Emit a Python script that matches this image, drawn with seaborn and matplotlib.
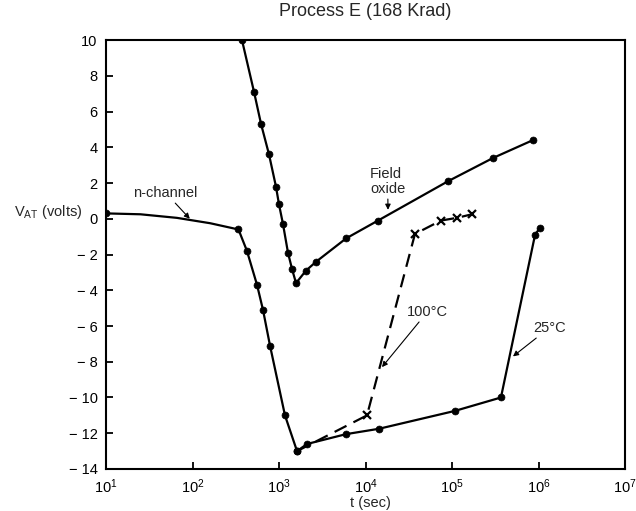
import matplotlib
matplotlib.use("Agg")
import matplotlib.pyplot as plt
import seaborn as sns
import numpy as np

# ---- data ----
nch_t = [10, 25, 66, 160, 340, 426, 557, 653, 787, 1172, 1615]
nch_v = [0.3, 0.25, 0.05, -0.25, -0.6, -1.8, -3.7, -5.1, -7.1, -11.0, -13.0]
nch_marks = [0, 4, 5, 6, 7, 8, 9, 10]

t25 = [1615, 2110, 5960, 14300, 108000, 368000, 912000, 1040000]
v25 = [-13.0, -12.6, -12.05, -11.75, -10.75, -10.0, -0.9, -0.5]

t100 = [1615, 10400, 37300, 74600, 114000, 170000]
v100 = [-13.0, -11.0, -0.85, -0.1, 0.05, 0.25]

tfo = [373, 514, 620, 766, 922, 1000, 1112, 1270, 1412, 1573, 2050, 2690,
       5960, 13960, 90000, 298000, 863000]
vfo = [10, 7.1, 5.3, 3.6, 1.8, 0.8, -0.3, -1.9, -2.8, -3.6, -2.9, -2.4,
       -1.1, -0.1, 2.1, 3.4, 4.4]

yticks = list(range(-14, 11, 2))
ytick_labels = [("\u2212 %d" % -v) if v < 0 else str(v) for v in yticks]
xticks = [1e1, 1e2, 1e3, 1e4, 1e5, 1e6, 1e7]

sns.set_style("ticks")
plt.rcParams['font.family'] = ['Liberation Sans', 'DejaVu Sans']
plt.rcParams['mathtext.fontset'] = 'custom'
plt.rcParams['mathtext.rm'] = 'Liberation Sans'
plt.rcParams['mathtext.it'] = 'Liberation Sans:italic'

fig = plt.figure(figsize=(6.36, 5.11), dpi=100)
ax = fig.add_axes([0.1667, 0.0822, 0.9827 - 0.1667, 0.9217 - 0.0822])

lw = 1.6
dot = dict(marker='o', markersize=5, mec='black', mfc='black', mew=0.5)
sns.lineplot(x=nch_t, y=nch_v, sort=False, estimator=None, ax=ax, color='black',
             lw=lw, markevery=nch_marks, **dot)
sns.lineplot(x=t25, y=v25, sort=False, estimator=None, ax=ax, color='black',
             lw=lw, **dot)
sns.lineplot(x=t100, y=v100, sort=False, estimator=None, ax=ax, color='black',
             lw=lw, marker='x', markersize=5.5, mew=1.6, mec='black',
             markevery=[1, 2, 3, 4, 5], dashes=(6, 3.5))
sns.lineplot(x=tfo, y=vfo, sort=False, estimator=None, ax=ax, color='black',
             lw=lw, **dot)

ax.set_xscale('log')
ax.set_xlim(1e1, 1e7)
ax.set_ylim(-14, 10)
ax.set_xticks(xticks)
ax.xaxis.set_minor_locator(matplotlib.ticker.NullLocator())
ax.set_yticks(yticks)
ax.set_yticklabels(ytick_labels)
ax.tick_params(direction='in', length=5, width=1.3, labelsize=10.5, colors='black', pad=6)
for s in ax.spines.values():
    s.set_visible(True)
    s.set_linewidth(1.5)
    s.set_color('black')
ax.set_xlabel('')
ax.set_ylabel('')

fig.text(365 / 636, 1 - 12 / 511, 'Process E (168 Krad)', ha='center', va='center', fontsize=13)
fig.text(14 / 636, 1 - 212 / 511, r'V$_{\mathrm{AT}}$ (volts)', ha='left', va='center', fontsize=10.5)
fig.text(370 / 636, 1 - 503 / 511, 't (sec)', ha='center', va='center', fontsize=10.5)

ap = dict(arrowstyle='-|>', color='black', lw=0.8, mutation_scale=8, shrinkA=0, shrinkB=0)
ax.annotate('n-channel', xy=(93, 0.0), xytext=(49, 1.45), ha='center', va='center',
            fontsize=10.5, arrowprops=ap)
ax.annotate('Field\noxide', xy=(18200, 0.5), xytext=(11270, 2.1), ha='left', va='center',
            fontsize=10.5, linespacing=1.1, arrowprops=ap)
ax.annotate('100\u00b0C', xy=(15500, -8.3), xytext=(30200, -5.2), ha='left', va='center',
            fontsize=10.5, arrowprops=ap)
ax.annotate('25\u00b0C', xy=(507000, -7.7), xytext=(863000, -6.1), ha='left', va='center',
            fontsize=10.5, arrowprops=ap)

fig.savefig('out.png', dpi=100)
